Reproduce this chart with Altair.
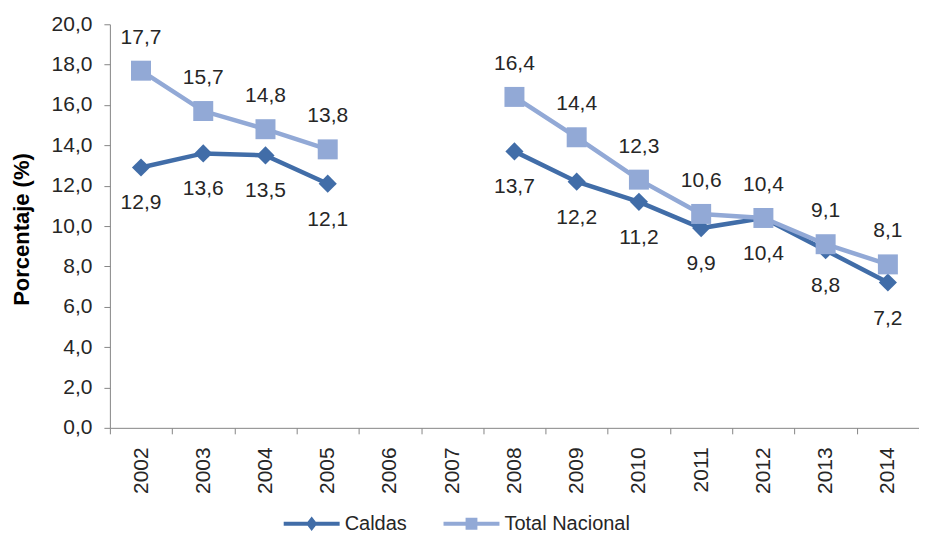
import altair as alt
import pandas as pd

years = [2002, 2003, 2004, 2005, 2006, 2007, 2008, 2009, 2010, 2011, 2012, 2013, 2014]
caldas = [12.9, 13.6, 13.5, 12.1, None, None, 13.7, 12.2, 11.2, 9.9, 10.4, 8.8, 7.2]
total = [17.7, 15.7, 14.8, 13.8, None, None, 16.4, 14.4, 12.3, 10.6, 10.4, 9.1, 8.1]
series = ["Caldas", "Total Nacional"]
colors = ["#416DA8", "#92A9D6"]
y_ticks = [0, 2, 4, 6, 8, 10, 12, 14, 16, 18, 20]

rows = []
for name, vals in zip(series, [caldas, total]):
    for yr, v in zip(years, vals):
        if v is not None:
            rows.append({"year": str(yr), "serie": name, "valor": v,
                         "tramo": "a" if yr < 2006 else "b"})
df = pd.DataFrame(rows)

FONT = "Liberation Sans"
TXT = "#262626"

x_enc = alt.X(
    "year:O", bandPosition=0.5,
    scale=alt.Scale(type="band", domain=[str(y) for y in years], paddingInner=0, paddingOuter=0),
    axis=alt.Axis(title=None, labelAngle=270, tickBand="extent", tickSize=6, labelPadding=13),
)
y_enc = alt.Y(
    "valor:Q",
    scale=alt.Scale(domain=[0, 20], nice=False),
    axis=alt.Axis(values=y_ticks, tickSize=6, labelPadding=12,
                  labelExpr="replace(format(datum.value, '.1f'), '.', ',')",
                  title="Porcentaje (%)", titleFontWeight="bold", titleFontSize=22,
                  titleFont=FONT, titleColor="#000000", titleX=-88, titleY=205,
                  titleAngle=270, titleBaseline="middle", titleAlign="center"),
)

base = alt.Chart(df).transform_calculate(
    lab="replace(format(datum.valor, '.1f'), '.', ',')"
)

legend = alt.Legend(
    title=None, orient="none", legendX=172, legendY=470, direction="horizontal",
    symbolType=alt.ExprRef(expr="datum.value == 'Caldas' ? 'M-1,0L1,0M0,-0.14L0.11,0L0,0.14L-0.11,0Z' : 'M-1,0L1,0M-0.14,-0.14L0.14,-0.14L0.14,0.14L-0.14,0.14Z'"),
    symbolFillColor=alt.ExprRef(expr="datum.value == 'Caldas' ? '#416DA8' : '#92A9D6'"),
    symbolSize=3136, symbolStrokeWidth=4,
    labelFontSize=20, labelFont=FONT, labelColor=TXT, labelOffset=3, columnPadding=28,
)

color_enc = alt.Color("serie:N", scale=alt.Scale(domain=series, range=colors), legend=legend)

line_c = base.transform_filter("datum.serie == 'Caldas'").mark_line(strokeWidth=4.5).encode(
    x=x_enc, y=y_enc, color=color_enc, detail="tramo:N")
pts_c = base.transform_filter("datum.serie == 'Caldas'").mark_point(
    shape="diamond", size=330, filled=True, opacity=1, color=colors[0]).encode(x=x_enc, y=y_enc)
line_t = base.transform_filter("datum.serie == 'Total Nacional'").mark_line(strokeWidth=4.5).encode(
    x=x_enc, y=y_enc, color=alt.Color("serie:N", scale=alt.Scale(domain=series, range=colors), legend=None),
    detail="tramo:N")
pts_t = base.transform_filter("datum.serie == 'Total Nacional'").mark_point(
    shape="square", size=400, filled=True, opacity=1, color=colors[1]).encode(x=x_enc, y=y_enc)
txt_c = base.transform_filter("datum.serie == 'Caldas'").mark_text(
    dy=36, fontSize=21, font=FONT, color=TXT).encode(x=x_enc, y=y_enc, text="lab:N")
txt_t = base.transform_filter("datum.serie == 'Total Nacional'").mark_text(
    dy=-33, fontSize=21, font=FONT, color=TXT).encode(x=x_enc, y=y_enc, text="lab:N")

chart = alt.layer(line_c, pts_c, line_t, pts_t, txt_c, txt_t).properties(
    width=810, height=404,
    autosize=alt.AutoSizeParams(type="none"),
    padding={"left": 102, "top": 16, "right": 0, "bottom": 108},
).configure_axis(
    labelFont=FONT, labelFontSize=21, labelColor=TXT,
    domainColor="#868686", tickColor="#868686", grid=False,
).configure_view(stroke=None)

chart.save("out.html", embed_options={"renderer": "svg", "actions": False})
